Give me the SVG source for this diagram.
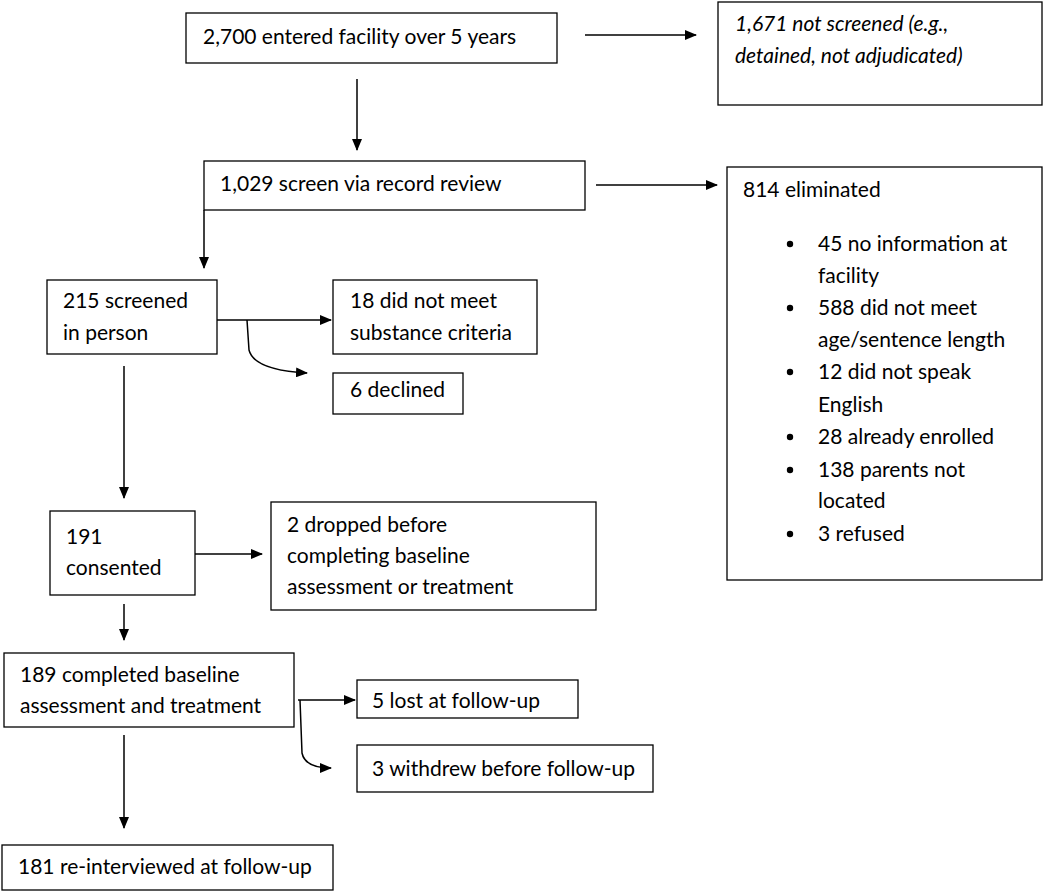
<svg xmlns="http://www.w3.org/2000/svg" width="1050" height="892" viewBox="0 0 1050 892">
<defs>
<marker id="ah" markerWidth="12" markerHeight="10" refX="11" refY="5" orient="auto" markerUnits="userSpaceOnUse">
<path d="M0,0 L12,5 L0,10 Z" fill="#000"/>
</marker>
<style>
.box{fill:#fff;stroke:#000;stroke-width:1.3}
.t{font-family:Lato,"Noto Sans","Liberation Sans",sans-serif;font-size:21px;fill:#000}
.i{font-style:italic}
.c{fill:none;stroke:#000;stroke-width:1.5}
</style>
</defs>
<rect width="1050" height="892" fill="#fff"/>
<g id="connectors">
<path class="c" d="M585,35 H696" marker-end="url(#ah)"/>
<path class="c" d="M357,79 V150" marker-end="url(#ah)"/>
<path class="c" d="M596,185 H717" marker-end="url(#ah)"/>
<path class="c" d="M204,210 V268" marker-end="url(#ah)"/>
<path class="c" d="M217,320 H331" marker-end="url(#ah)"/>
<path class="c" d="M247,320 L249,350 Q254,370 307,373" marker-end="url(#ah)"/>
<path class="c" d="M124,366 V498" marker-end="url(#ah)"/>
<path class="c" d="M195,554 H262" marker-end="url(#ah)"/>
<path class="c" d="M124,604 V640" marker-end="url(#ah)"/>
<path class="c" d="M298,700 H355" marker-end="url(#ah)"/>
<path class="c" d="M300,700 L302,753 Q305,768 331,768" marker-end="url(#ah)"/>
<path class="c" d="M124,735 V828" marker-end="url(#ah)"/>
</g>
<g id="n1"><rect class="box" x="186" y="13" width="371" height="50"/><text class="t" x="203" y="44">2,700 entered facility over 5 years</text></g>
<g id="n2"><rect class="box" x="718" y="2" width="324" height="103"/><text class="t i" x="735" y="31">1,671 not screened (e.g.,</text><text class="t i" x="735" y="63">detained, not adjudicated)</text></g>
<g id="n3"><rect class="box" x="204" y="161" width="381" height="49"/><text class="t" x="220" y="191">1,029 screen via record review</text></g>
<g id="n4"><rect class="box" x="727" y="167" width="315" height="413"/>
<text class="t" x="743" y="197">814 eliminated</text>
<g>
<circle cx="790" cy="244" r="3.2"/><text class="t" x="818" y="251">45 no information at</text><text class="t" x="818" y="283">facility</text>
<circle cx="790" cy="308" r="3.2"/><text class="t" x="818" y="315">588 did not meet</text><text class="t" x="818" y="347">age/sentence length</text>
<circle cx="790" cy="372" r="3.2"/><text class="t" x="818" y="379">12 did not speak</text><text class="t" x="818" y="412">English</text>
<circle cx="790" cy="437" r="3.2"/><text class="t" x="818" y="444">28 already enrolled</text>
<circle cx="790" cy="470" r="3.2"/><text class="t" x="818" y="477">138 parents not</text><text class="t" x="818" y="508">located</text>
<circle cx="790" cy="534" r="3.2"/><text class="t" x="818" y="541">3 refused</text>
</g></g>
<g id="n5"><rect class="box" x="47" y="280" width="170" height="74"/><text class="t" x="63" y="308">215 screened</text><text class="t" x="63" y="340">in person</text></g>
<g id="n6"><rect class="box" x="333" y="280" width="204" height="74"/><text class="t" x="350" y="308">18 did not meet</text><text class="t" x="350" y="340">substance criteria</text></g>
<g id="n7"><rect class="box" x="333" y="373" width="130" height="41"/><text class="t" x="350" y="397">6 declined</text></g>
<g id="n8"><rect class="box" x="50" y="511" width="145" height="84"/><text class="t" x="66" y="544">191</text><text class="t" x="66" y="575">consented</text></g>
<g id="n9"><rect class="box" x="271" y="502" width="325" height="108"/><text class="t" x="287" y="532">2 dropped before</text><text class="t" x="287" y="563">completing baseline</text><text class="t" x="287" y="594">assessment or treatment</text></g>
<g id="n10"><rect class="box" x="4" y="653" width="290" height="74"/><text class="t" x="20" y="682">189 completed baseline</text><text class="t" x="20" y="713">assessment and treatment</text></g>
<g id="n11"><rect class="box" x="357" y="680" width="221" height="38"/><text class="t" x="372" y="708">5 lost at follow-up</text></g>
<g id="n12"><rect class="box" x="357" y="745" width="296" height="47"/><text class="t" x="372" y="776">3 withdrew before follow-up</text></g>
<g id="n13"><rect class="box" x="2" y="845" width="331" height="45"/><text class="t" x="18" y="874">181 re-interviewed at follow-up</text></g>
</svg>
